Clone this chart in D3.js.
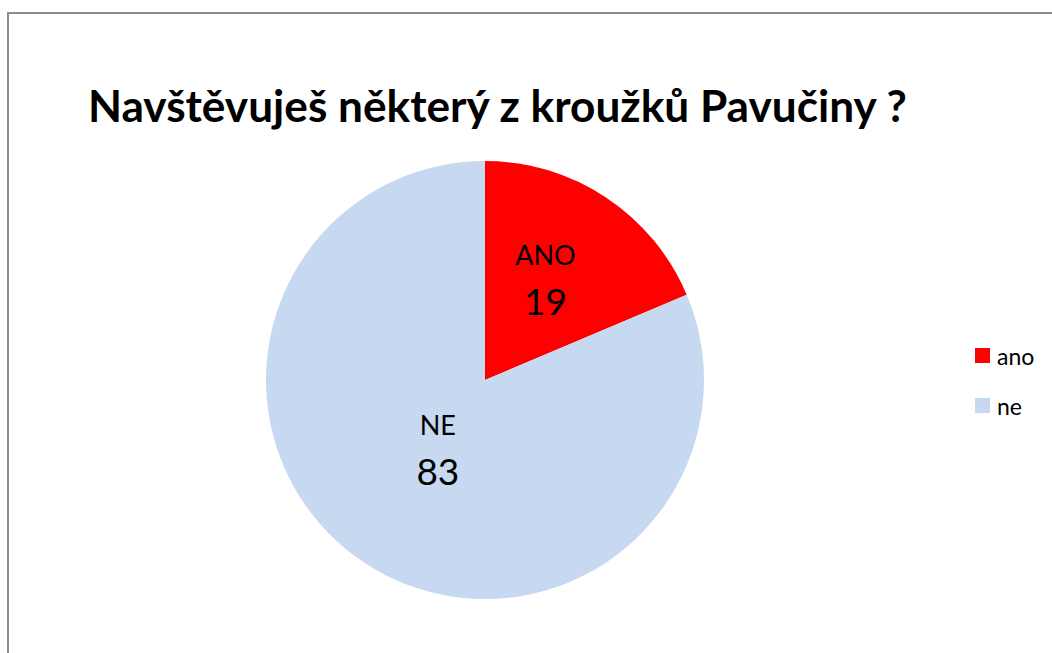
<!DOCTYPE html>
<html>
<head>
<meta charset="utf-8">
<script src="https://cdn.jsdelivr.net/npm/d3@7"></script>
<style>
  body { margin: 0; background: #fff; }
  svg { display: block; }
  text { font-family: Lato, "Open Sans", sans-serif; fill: #000; }
</style>
</head>
<body>
<svg id="chart" width="1052" height="653"></svg>
<script>
const title = "Navštěvuješ některý z kroužků Pavučiny ?";
const categories = ["ano", "ne"];
const sliceLabels = ["ANO", "NE"];
const values = [19, 83];
const colors = ["#ff0000", "#c6d9f1"];

const svg = d3.select("#chart");
const width = 1052, height = 653;

// frame (only left and top edges visible in the crop)
svg.append("path")
  .attr("d", `M8,${height} L8,13 L${width},13`)
  .attr("fill", "none")
  .attr("stroke", "#8c8c8c")
  .attr("stroke-width", 2);

const t = svg.append("text")
  .attr("x", 88)
  .attr("y", 122)
  .attr("font-size", 44)
  .attr("font-weight", "bold")
  .text(title);
const tw = t.node().getComputedTextLength();
t.attr("font-size", 44 * 819 / tw);

const cx = 485, cy = 380, r = 219;
const pie = d3.pie().sort(null).value(d => d)(values);
const arc = d3.arc().innerRadius(0).outerRadius(r);

const g = svg.append("g").attr("transform", `translate(${cx},${cy})`);

g.selectAll("path")
  .data(pie)
  .join("path")
  .attr("d", arc)
  .attr("fill", (d, i) => colors[i]);

// label placement, roughly like Excel's best fit
const labelFrac = [0.5, 0.39];
const labelLift = [11, 4];
pie.forEach((d, i) => {
  const a = (d.startAngle + d.endAngle) / 2;
  const lr = r * labelFrac[i];
  const x = Math.sin(a) * lr, y = -Math.cos(a) * lr - labelLift[i];
  g.append("text")
    .attr("x", x).attr("y", y - 23)
    .attr("text-anchor", "middle")
    .attr("dominant-baseline", "central")
    .attr("font-size", 27)
    .text(sliceLabels[i]);
  g.append("text")
    .attr("x", x).attr("y", y + 23)
    .attr("text-anchor", "middle")
    .attr("dominant-baseline", "central")
    .attr("font-size", 37)
    .text(values[i]);
});

const legend = svg.append("g").attr("transform", "translate(975,348)");
const item = legend.selectAll("g")
  .data(categories)
  .join("g")
  .attr("transform", (d, i) => `translate(0,${i * 50})`);
item.append("rect")
  .attr("width", 15).attr("height", 15)
  .attr("fill", (d, i) => colors[i]);
item.append("text")
  .attr("x", 22).attr("y", 8)
  .attr("dominant-baseline", "central")
  .attr("font-size", 23)
  .text(d => d);
</script>
</body>
</html>
